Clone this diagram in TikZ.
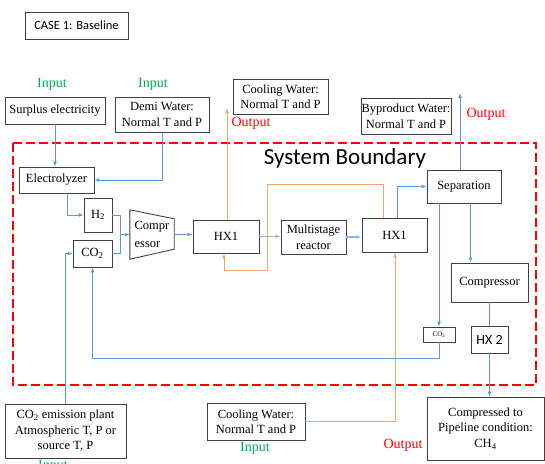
\documentclass[tikz,border=0pt]{standalone}
\usepackage{fontspec}
\setmainfont{Liberation Serif}
\newfontfamily\calibri{Carlito}
\usetikzlibrary{arrows.meta,calc}
\definecolor{lblue}{HTML}{5B9BD5}
\definecolor{lorange}{HTML}{F4A46A}
\definecolor{dgreen}{HTML}{00B050}
\definecolor{bord}{HTML}{404040}
\tikzset{
  box/.style={draw=bord,line width=0.9pt,inner sep=0pt,align=center,font=\fontsize{12.5}{15.5}\selectfont},
  bline/.style={draw=lblue,line width=0.9pt},
  barrow/.style={bline,-{Latex[length=5pt,width=4pt]}},
  oline/.style={draw=lorange,line width=0.9pt},
  oarrow/.style={oline,-{Latex[length=5pt,width=4pt]}},
  inlabel/.style={text=dgreen,font=\fontsize{14}{16}\selectfont},
  outlabel/.style={text=red,font=\fontsize{14}{16}\selectfont},
}
\begin{document}
\begin{tikzpicture}[x=1pt,y=-1pt]
\useasboundingbox (0,0) rectangle (545,463);
% boundary
\draw[red,line width=2.4pt,dash pattern=on 9pt off 4pt] (13,143) rectangle (536,385);
\node[font=\calibri\fontsize{23}{26}\selectfont] (sb) at (345,158) {System Boundary};
% boxes
\node[box,font=\calibri\fontsize{12.5}{15}\selectfont,minimum width=103pt,minimum height=27pt] (case) at (76.5,25.5) {CASE 1: Baseline};
\node[box,minimum width=100pt,minimum height=27pt] (surplus) at (55,110.5) {Surplus electricity};
\node[box,minimum width=94pt,minimum height=35pt] (demi) at (162,114.5) {Demi Water:\\Normal T and P};
\node[box,minimum width=95pt,minimum height=35pt] (cwtop) at (280.5,96.5) {Cooling Water:\\Normal T and P};
\node[box,minimum width=90pt,minimum height=36pt] (byprod) at (406,116) {Byproduct Water:\\Normal T and P};
\node[box,minimum width=75pt,minimum height=26pt] (elec) at (56.5,180) {Electrolyzer};
\node[box,minimum width=28pt,minimum height=34pt] (h2) at (98,215) {H\textsubscript{2}};
\node[box,minimum width=39pt,minimum height=27pt] (co2) at (92.5,253.5) {CO\textsubscript{2}};
\node[inner sep=0pt,minimum width=44pt,minimum height=49pt,align=left,font=\fontsize{12.5}{18}\selectfont] (comp) at (152,234.5) {Compr\\essor};
\draw[draw=bord,line width=0.9pt] (comp.north west) -- ([yshift=-9pt]comp.north east) -- ([yshift=10pt]comp.south east) -- (comp.south west) -- cycle;
\node[box,minimum width=66pt,minimum height=33pt] (hxa) at (226,236.5) {HX1};
\node[box,minimum width=65pt,minimum height=34pt] (reac) at (313.5,237) {Multistage\\reactor};
\node[box,minimum width=65pt,minimum height=34pt] (hxb) at (394.5,235) {HX1};
\node[box,minimum width=74pt,minimum height=33pt] (sep) at (464,186.5) {Separation};
\node[box,minimum width=77pt,minimum height=39pt] (comp2) at (489.5,282.5) {Compressor};
\node[box,minimum width=32pt,minimum height=15pt,font=\fontsize{7}{8}\selectfont] (co2s) at (439,334.5) {CO\textsubscript{2}};
\node[box,minimum width=37pt,minimum height=27pt,font=\calibri\fontsize{14}{16}\selectfont] (hx2) at (489.5,339.5) {HX 2};
\node[box,minimum width=117pt,minimum height=63pt] (cmpd) at (485.5,428.5) {Compressed to\\Pipeline condition:\\CH\textsubscript{4}};
\node[box,minimum width=121pt,minimum height=54pt] (plant) at (65.5,431) {CO\textsubscript{2} emission plant\\Atmospheric T, P or\\source T, P};
\node[box,minimum width=98pt,minimum height=37pt] (cwbot) at (256,421.5) {Cooling Water:\\Normal T and P};
% labels
\node[inlabel] (in1) at (52,84) {Input};
\node[inlabel] (in2) at (153,84) {Input};
\node[inlabel] (in3) at (255,448) {Input};
\node[inlabel] (in4) at (53,466) {Input};
\node[outlabel] (out1) at (251,123) {Output};
\node[outlabel] (out2) at (486,114) {Output};
\node[outlabel] (out3) at (403,445) {Output};
% coordinates
\coordinate (j) at ([xshift=-9pt]comp.west);
\coordinate (bwout) at (460,93);
\coordinate (cwout) at (227,108);
\coordinate (rb) at (0,358);
% blue connectors
\draw[barrow] (surplus.south) -- (surplus.south |- elec.north);
\draw[barrow] (demi.south) |- (elec.east);
\draw[barrow] ([xshift=10.5pt]elec.south) |- (h2.west);
\draw[bline] (h2.east) -| (j);
\draw[bline] (co2.east) -| (j);
\draw[barrow] (j) -- (comp.west);
\draw[barrow] (comp.east) -- (comp.east -| hxa.west);
\draw[barrow,line width=1.6pt,draw=lblue!70] (hxa.east) -- (hxa.east -| reac.west);
\draw[barrow,line width=1.6pt,draw=lblue!70] (reac.east) -- (reac.east -| hxb.west);
\draw[barrow] ([xshift=2.5pt]hxb.north) |- (sep.west);
\draw[barrow] (sep.north -| bwout) -- (bwout);
\draw[barrow] ([xshift=6.5pt]sep.south) -- ([xshift=6.5pt]sep.south |- comp2.north);
\draw[barrow] (sep.south -| co2s.north) -- (co2s.north);
\draw[barrow] (co2s.south) -- (co2s.south |- rb) -| (co2.south);
\draw[bline] (comp2.south) -- (hx2.north);
\draw[barrow] (hx2.south) -- (hx2.south |- cmpd.north);
\draw[barrow] (plant.north) |- (co2.west);
% orange connectors
\draw[oarrow] (hxa.north -| cwout) -- (cwout);
\draw[oarrow] ([xshift=-11.5pt]hxb.north) |- (267,184) -- (267,270) -| ([xshift=-2pt]hxa.south);
\draw[oarrow] (cwbot.east) -| ([xshift=0.5pt]hxb.south);
\end{tikzpicture}
\end{document}
